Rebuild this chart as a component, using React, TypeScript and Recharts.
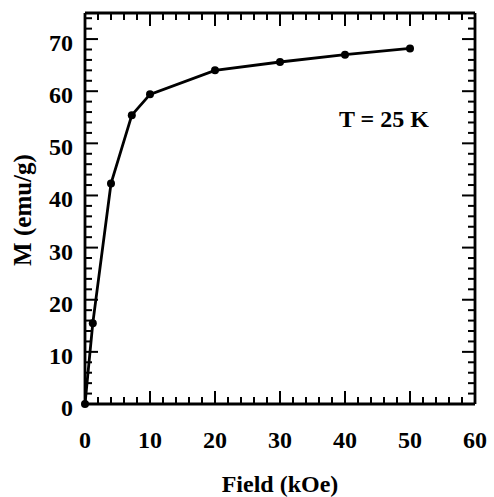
import React from "react";
import {
  LineChart,
  Line,
  XAxis,
  YAxis,
  ReferenceDot,
} from "recharts";

const fieldKOe = [0, 1.2, 4, 7.2, 10, 20, 30, 40, 50];
const magnetization = [0, 15.5, 42.3, 55.4, 59.4, 64, 65.6, 67, 68.2];
const xTickValues = [0, 2, 4, 6, 8, 10, 12, 14, 16, 18, 20, 22, 24, 26, 28, 30, 32, 34, 36, 38, 40, 42, 44, 46, 48, 50, 52, 54, 56, 58, 60];
const yTickValues = [0, 2, 4, 6, 8, 10, 12, 14, 16, 18, 20, 22, 24, 26, 28, 30, 32, 34, 36, 38, 40, 42, 44, 46, 48, 50, 52, 54, 56, 58, 60, 62, 64, 66, 68, 70, 72, 74];
const majorStep = 10;
const annotation = "T = 25 K";
const annotationPos = { x: 46, y: 55 };

const data = fieldKOe.map((f, i) => ({ field: f, m: magnetization[i] }));

const FONT = "'Liberation Serif', 'Times New Roman', serif";
const MAJ = 13;
const MIN = 7;

const isMajor = (v: number) => Math.abs(v % majorStep) < 1e-9;

const BottomTick = (props: any) => {
  const { x, y, payload } = props;
  const major = isMajor(payload.value);
  return (
    <g>
      <line x1={x} y1={y} x2={x} y2={y - (major ? MAJ : MIN)} stroke="#000" strokeWidth={2} />
      {major && (
        <text x={x} y={y + 44} textAnchor="middle" fontFamily={FONT} fontWeight="bold" fontSize={24} fill="#000">
          {payload.value}
        </text>
      )}
    </g>
  );
};

const TopTick = (props: any) => {
  const { x, y, payload } = props;
  const major = isMajor(payload.value);
  return <line x1={x} y1={y} x2={x} y2={y + (major ? MAJ : MIN)} stroke="#000" strokeWidth={2} />;
};

const LeftTick = (props: any) => {
  const { x, y, payload } = props;
  const major = isMajor(payload.value);
  return (
    <g>
      <line x1={x} y1={y} x2={x + (major ? MAJ : MIN)} y2={y} stroke="#000" strokeWidth={2} />
      {major && (
        <text x={x - 12} y={y + 12} textAnchor="end" fontFamily={FONT} fontWeight="bold" fontSize={24} fill="#000">
          {payload.value}
        </text>
      )}
    </g>
  );
};

const RightTick = (props: any) => {
  const { x, y, payload } = props;
  const major = isMajor(payload.value);
  return <line x1={x} y1={y} x2={x - (major ? MAJ : MIN)} y2={y} stroke="#000" strokeWidth={2} />;
};

export default function App() {
  return (
    <div style={{ position: "absolute", left: 0, top: 0, background: "#fff" }}>
      <LineChart width={494} height={497} data={data} margin={{ top: 12, right: 18, left: 0, bottom: 0 }}>
        <XAxis
          xAxisId="b"
          dataKey="field"
          type="number"
          domain={[0, 60]}
          ticks={xTickValues}
          interval={0}
          height={93}
          tickSize={0}
          tickMargin={0}
          tickLine={false}
          axisLine={{ stroke: "#000", strokeWidth: 2.8 }}
          tick={<BottomTick />}
          label={{
            content: (p: any) => {
              const vb = p.viewBox;
              return (
                <text x={vb.x + vb.width / 2} y={vb.y + 88} textAnchor="middle" fontFamily={FONT} fontWeight="bold" fontSize={24} fill="#000">
                  Field (kOe)
                </text>
              );
            },
          }}
        />
        <XAxis
          xAxisId="t"
          orientation="top"
          dataKey="field"
          type="number"
          domain={[0, 60]}
          ticks={xTickValues}
          interval={0}
          height={1}
          tickSize={0}
          tickMargin={0}
          tickLine={false}
          axisLine={{ stroke: "#000", strokeWidth: 2.8 }}
          tick={<TopTick />}
        />
        <YAxis
          yAxisId="l"
          type="number"
          domain={[0, 75]}
          ticks={yTickValues}
          interval={0}
          width={85}
          tickSize={0}
          tickMargin={0}
          tickLine={false}
          axisLine={{ stroke: "#000", strokeWidth: 2.8 }}
          tick={<LeftTick />}
          label={{
            content: () => {
              const cy = 210;
              return (
                <text x={31} y={cy} transform={`rotate(-90, 31, ${cy})`} textAnchor="middle" fontFamily={FONT} fontWeight="bold" fontSize={25} fill="#000">
                  M (emu/g)
                </text>
              );
            },
          }}
        />
        <YAxis
          yAxisId="r"
          orientation="right"
          type="number"
          domain={[0, 75]}
          ticks={yTickValues}
          interval={0}
          width={1}
          tickSize={0}
          tickMargin={0}
          tickLine={false}
          axisLine={{ stroke: "#000", strokeWidth: 2.8 }}
          tick={<RightTick />}
        />
        <Line
          xAxisId="b"
          yAxisId="l"
          type="linear"
          dataKey="m"
          stroke="#000"
          strokeWidth={2.8}
          dot={{ r: 4, fill: "#000", stroke: "#000", strokeWidth: 0 }}
          isAnimationActive={false}
        />
        <Line
          xAxisId="t"
          yAxisId="r"
          type="linear"
          dataKey="m"
          stroke="none"
          dot={false}
          activeDot={false}
          legendType="none"
          isAnimationActive={false}
        />
        <ReferenceDot
          xAxisId="b"
          yAxisId="l"
          x={annotationPos.x}
          y={annotationPos.y}
          r={0}
          fill="none"
          stroke="none"
          label={{
            content: (p: any) => {
              const vb = p.viewBox;
              const cx = vb.x + (vb.width || 0) / 2;
              const cy = vb.y + (vb.height || 0) / 2;
              return (
                <text x={cx} y={cy + 10} textAnchor="middle" fontFamily={FONT} fontWeight="bold" fontSize={24} fill="#000">
                  {annotation}
                </text>
              );
            },
          }}
        />
      </LineChart>
    </div>
  );
}
